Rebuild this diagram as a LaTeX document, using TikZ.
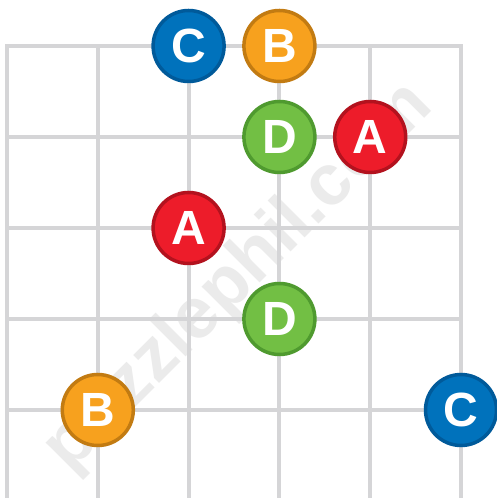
\documentclass[tikz,border=0pt]{standalone}
\usepackage{fontspec}
\setmainfont{Liberation Sans}
\definecolor{gridgray}{HTML}{D5D5D7}
\definecolor{wm}{HTML}{EBEBEB}
\definecolor{bluef}{HTML}{0072BC}\definecolor{blued}{HTML}{005A9A}
\definecolor{orangef}{HTML}{F7A11E}\definecolor{oranged}{HTML}{C27B12}
\definecolor{greenf}{HTML}{72BF44}\definecolor{greend}{HTML}{4F9A2F}
\definecolor{redf}{HTML}{ED1C2A}\definecolor{redd}{HTML}{B3121E}
\tikzset{
  gridline/.style={draw=gridgray, line width=4pt},
  disc/.style={circle, minimum size=71pt, inner sep=0pt, line width=3.5pt, text=white, font=\bfseries\fontsize{48}{48}\selectfont},
  bluedisc/.style={disc, fill=bluef, draw=blued},
  orangedisc/.style={disc, fill=orangef, draw=oranged},
  greendisc/.style={disc, fill=greenf, draw=greend},
  reddisc/.style={disc, fill=redf, draw=redd},
}
\begin{document}
\begin{tikzpicture}[x=1pt,y=1pt]
\useasboundingbox (0,0) rectangle (497,498);
\fill[white] (0,0) rectangle (497,498);
% watermark
\node[anchor=base, rotate=45, inner sep=0pt, text=wm, font=\bfseries\fontsize{72}{72}\selectfont] (wmark) at (252,207) {puzzlephil.com};
% grid
\foreach \i in {0,...,5} {
  \draw[gridline] ({7+90.8*\i},-5) -- ({7+90.8*\i},{498-46});
}
\foreach \j in {0,...,4} {
  \draw[gridline] (5,{498-46-91*\j}) -- (463,{498-46-91*\j});
}
% discs
\node[bluedisc]   (c1) at ({7+90.8*2},{498-46}) {C};
\node[orangedisc] (b1) at ({7+90.8*3},{498-46}) {B};
\node[greendisc]  (d1) at ({7+90.8*3},{498-137}) {D};
\node[reddisc]    (a1) at ({7+90.8*4},{498-137}) {A};
\node[reddisc]    (a2) at ({7+90.8*2},{498-228}) {A};
\node[greendisc]  (d2) at ({7+90.8*3},{498-319}) {D};
\node[orangedisc] (b2) at ({7+90.8*1},{498-410}) {B};
\node[bluedisc]   (c2) at ({7+90.8*5},{498-410}) {C};
\end{tikzpicture}
\end{document}
